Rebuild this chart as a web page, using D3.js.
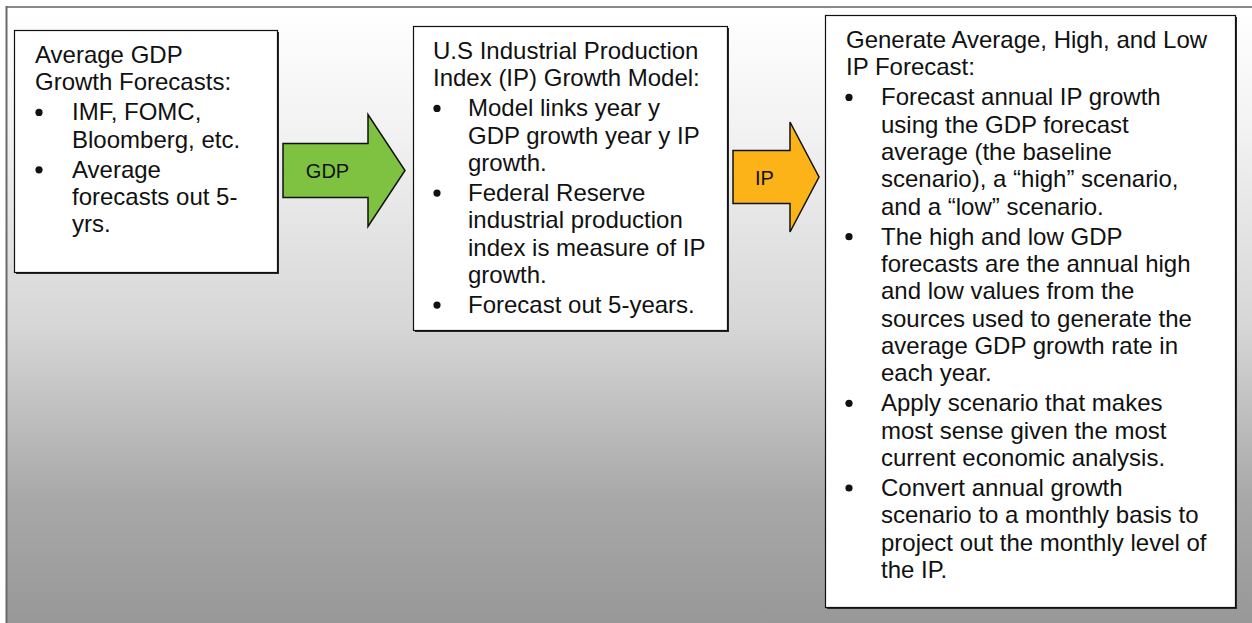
<!DOCTYPE html>
<html>
<head>
<meta charset="utf-8">
<script src="https://cdn.jsdelivr.net/npm/d3@7"></script>
<style>
  html, body { margin: 0; padding: 0; background: #fff; }
  svg { display: block; }
  text { font-family: "Liberation Sans", Arial, sans-serif; fill: #111; }
</style>
</head>
<body>
<svg id="chart"></svg>
<script>
// diagram content
const boxTitles = [
  ['Average GDP', 'Growth Forecasts:'],
  ['U.S Industrial Production', 'Index (IP) Growth Model:'],
  ['Generate Average, High, and Low', 'IP Forecast:'],
];

const boxBullets = [
  [
    ['IMF, FOMC,', 'Bloomberg, etc.'],
    ['Average', 'forecasts out 5-', 'yrs.'],
  ],
  [
    ['Model links year y', 'GDP growth year y IP', 'growth.'],
    ['Federal Reserve', 'industrial production', 'index is measure of IP', 'growth.'],
    ['Forecast out 5-years.'],
  ],
  [
    ['Forecast annual IP growth', 'using the GDP forecast', 'average (the baseline',
      'scenario), a \u201chigh\u201d scenario,', 'and a \u201clow\u201d scenario.'],
    ['The high and low GDP', 'forecasts are the annual high', 'and low values from the',
      'sources used to generate the', 'average GDP growth rate in', 'each year.'],
    ['Apply scenario that makes', 'most sense given the most', 'current economic analysis.'],
    ['Convert annual growth', 'scenario to a monthly basis to',
      'project out the monthly level of', 'the IP.'],
  ],
];

const arrowLabels = ['GDP', 'IP'];
const arrowColors = ['#7fc241', '#fbb317'];

// layout (pixels)
const WIDTH = 1252;
const HEIGHT = 623;
const LINE_H = 27.3;
const PARA_GAP = 2.8;

const boxes = [
  { x: 14, y: 30, w: 263, h: 242, title: 21, bullet: 25, text: 58 },
  { x: 413, y: 26, w: 314, h: 304, title: 20, bullet: 24, text: 55 },
  { x: 825, y: 15, w: 410, h: 592, title: 21, bullet: 24, text: 56 },
];

const arrows = [
  { x0: 283, x1: 368, x2: 405, cy: 170.5, body: 27, head: 56 },
  { x0: 733, x1: 790, x2: 819, cy: 177, body: 26.5, head: 55 },
];

const svg = d3.select('#chart')
  .attr('width', WIDTH)
  .attr('height', HEIGHT);

// background gradient panel
const grad = svg.append('defs').append('linearGradient')
  .attr('id', 'bg')
  .attr('gradientUnits', 'userSpaceOnUse')
  .attr('x1', 0).attr('x2', 0)
  .attr('y1', 7).attr('y2', HEIGHT);
[[0, '#ffffff'], [0.2, '#f2f2f2'], [0.52, '#d6d6d6'], [0.8, '#a8a8a8'], [1, '#989898']]
  .forEach(([o, c]) => grad.append('stop').attr('offset', o).attr('stop-color', c));

svg.append('rect')
  .attr('x', 6).attr('y', 6)
  .attr('width', WIDTH).attr('height', HEIGHT)
  .attr('fill', 'url(#bg)');
svg.append('line')
  .attr('x1', 6).attr('x2', WIDTH).attr('y1', 7).attr('y2', 7)
  .attr('stroke', '#8a8a8a').attr('stroke-width', 2);
svg.append('line')
  .attr('x1', 6.5).attr('x2', 6.5).attr('y1', 6).attr('y2', HEIGHT)
  .attr('stroke', '#6a6a6a').attr('stroke-width', 2);

// text boxes
boxes.forEach((b, i) => {
  const g = svg.append('g');
  g.append('rect')
    .attr('x', b.x + 2).attr('y', b.y + 2)
    .attr('width', b.w).attr('height', b.h)
    .attr('fill', '#2a2a2a');
  g.append('rect')
    .attr('x', b.x + 0.5).attr('y', b.y + 0.5)
    .attr('width', b.w).attr('height', b.h)
    .attr('fill', '#fff')
    .attr('stroke', '#111').attr('stroke-width', 1.2);

  const base = b.y + 33;
  let line = 0;
  boxTitles[i].forEach(t => {
    g.append('text')
      .attr('x', b.x + b.title)
      .attr('y', base + line * LINE_H)
      .attr('font-size', 24)
      .text(t);
    line += 1;
  });

  boxBullets[i].forEach((para, p) => {
    const y0 = base + line * LINE_H + (p + 1) * PARA_GAP;
    g.append('circle')
      .attr('cx', b.x + b.bullet)
      .attr('cy', y0 - 8)
      .attr('r', 3.6)
      .attr('fill', '#111');
    para.forEach((t, k) => {
      g.append('text')
        .attr('x', b.x + b.text)
        .attr('y', y0 + k * LINE_H)
        .attr('font-size', 24)
        .text(t);
    });
    line += para.length;
  });
});

// block arrows
arrows.forEach((a, i) => {
  const pts = [
    [a.x0, a.cy - a.body], [a.x1, a.cy - a.body], [a.x1, a.cy - a.head],
    [a.x2, a.cy], [a.x1, a.cy + a.head], [a.x1, a.cy + a.body], [a.x0, a.cy + a.body],
  ];
  svg.append('path')
    .attr('d', d3.line()(pts) + 'Z')
    .attr('fill', arrowColors[i])
    .attr('stroke', '#111')
    .attr('stroke-width', 1.5)
    .attr('stroke-linejoin', 'miter');
  svg.append('text')
    .attr('x', (a.x0 + a.x1) / 2 + (i === 0 ? 2 : 3))
    .attr('y', a.cy + 7.5)
    .attr('text-anchor', 'middle')
    .attr('font-size', 20)
    .text(arrowLabels[i]);
});
</script>
</body>
</html>
